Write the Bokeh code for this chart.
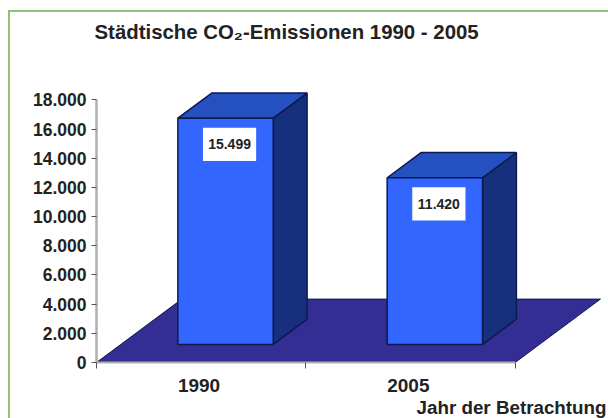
from bokeh.plotting import figure
from bokeh.models import (ColumnDataSource, FixedTicker, Range1d, Title)
from bokeh.embed import file_html
from bokeh.resources import INLINE
from bokeh.core.properties import value

years = ["1990", "2005"]
emissions = [15499, 11420]
value_labels = ["15.499", "11.420"]
y_ticks = [0, 2000, 4000, 6000, 8000, 10000, 12000, 14000, 16000, 18000]
y_tick_labels = ["0", "2.000", "4.000", "6.000", "8.000", "10.000", "12.000", "14.000", "16.000", "18.000"]
title_text = "Städtische CO₂-Emissionen 1990 - 2005"
x_title = "Jahr der Betrachtung"

W, H = 600, 408
LEFT, TOP, BOTTOM = 86, 35, 58
PX_X = 208.5          # pixels per category
PX_Y = 14.5 / 1000    # pixels per emission unit
FONT = "Liberation Sans"
INK = "#222222"

frame_w, frame_h = W - 2 - LEFT, H - 2 - TOP - BOTTOM
p = figure(width=W, height=H, output_backend="svg", toolbar_location=None,
           x_range=Range1d(0, frame_w / PX_X), y_range=Range1d(0, frame_h / PX_Y),
           min_border_left=LEFT, min_border_right=0, min_border_top=TOP, min_border_bottom=BOTTOM,
           background_fill_color="white", border_fill_color="white", outline_line_color=None,
           title=title_text, margin=(10, 0, 0, 8),
           styles={"border-top": "2px solid #8cc476", "border-left": "2px solid #8cc476"})
p.title.text_font = FONT
p.title.text_font_size = "20.4px"
p.title.text_font_style = "bold"
p.title.text_color = INK
p.title.offset = -2
p.grid.visible = False

# oblique projection of the floor depth
DX, DY = 85 / PX_X, 63 / PX_Y
def proj(x, y, d):
    return x + d * DX, y + d * DY

def poly(corners):
    pts = [proj(*c) for c in corners]
    return [a for a, _ in pts], [b for _, b in pts]

DARK = "#0c1a4d"
fx, fy = poly([(0, 0, 0), (2, 0, 0), (2, 0, 1), (0, 0, 1)])
p.patch(fx, fy, fill_color="#332d94", line_color=DARK, line_width=1)

D0, D1 = 18 / 63, 43 / 63
HALF = 47.5 / PX_X
for i, v in enumerate(emissions):
    c = i + 0.5
    a, b = c - HALF, c + HALF
    sx, sy = poly([(b, 0, D0), (b, 0, D1), (b, v, D1), (b, v, D0)])
    p.patch(sx, sy, fill_color="#17307e", line_color=DARK, line_width=1.5)
    tx, ty = poly([(a, v, D0), (b, v, D0), (b, v, D1), (a, v, D1)])
    p.patch(tx, ty, fill_color="#2450c0", line_color=DARK, line_width=1.5)
    qx, qy = poly([(a, 0, D0), (b, 0, D0), (b, v, D0), (a, v, D0)])
    p.patch(qx, qy, fill_color="#3366ff", line_color=DARK, line_width=1.5)

lab_x, lab_y = [], []
for i, v in enumerate(emissions):
    x, y = proj(i + 0.5 + 4 / PX_X, v - 26 / PX_Y, D0)
    lab_x.append(x); lab_y.append(y)
src = ColumnDataSource(dict(x=lab_x, y=lab_y, t=value_labels))
p.rect("x", "y", source=src, width=53 / PX_X, height=33 / PX_Y, fill_color="white", line_color=None)
p.text("x", "y", text="t", source=src, text_align="center", text_baseline="middle",
       text_font=value(FONT), text_font_style="bold", text_font_size="14px", text_color=INK)

ax = p.yaxis[0]
ax.ticker = FixedTicker(ticks=y_ticks)
ax.bounds = (0, 18000)
ax.major_label_overrides = dict(zip(y_ticks, y_tick_labels))
ax.major_label_text_font = FONT
ax.major_label_text_font_style = "bold"
ax.major_label_text_font_size = "17.5px"
ax.major_label_text_color = INK
ax.major_tick_in = 0
ax.major_tick_out = 5
ax.minor_tick_line_color = None
ax.major_tick_line_color = "#555555"
ax.axis_line_color = "#b0b0b0"
ax.axis_line_width = 2.5
ax.major_label_standoff = 5

bx = p.xaxis[0]
bx.ticker = FixedTicker(ticks=[0.49, 1.49], minor_ticks=[0, 1, 2])
bx.bounds = (0, 2)
bx.major_label_overrides = {0.49: years[0], 1.49: years[1]}
bx.major_label_text_font = FONT
bx.major_label_text_font_style = "bold"
bx.major_label_text_font_size = "19px"
bx.major_label_text_color = INK
bx.major_tick_in = 0
bx.major_tick_out = 0
bx.minor_tick_in = 0
bx.minor_tick_out = 6
bx.minor_tick_line_color = "#555555"
bx.axis_line_color = "#b0b0b0"
bx.axis_line_width = 2
bx.major_label_standoff = 10

p.add_layout(Title(text=x_title, align="right", offset=4, standoff=0, text_font=FONT, text_font_style="bold",
                   text_font_size="18.8px", text_color=INK), "below")

open("out.html", "w").write(file_html(p, INLINE))
